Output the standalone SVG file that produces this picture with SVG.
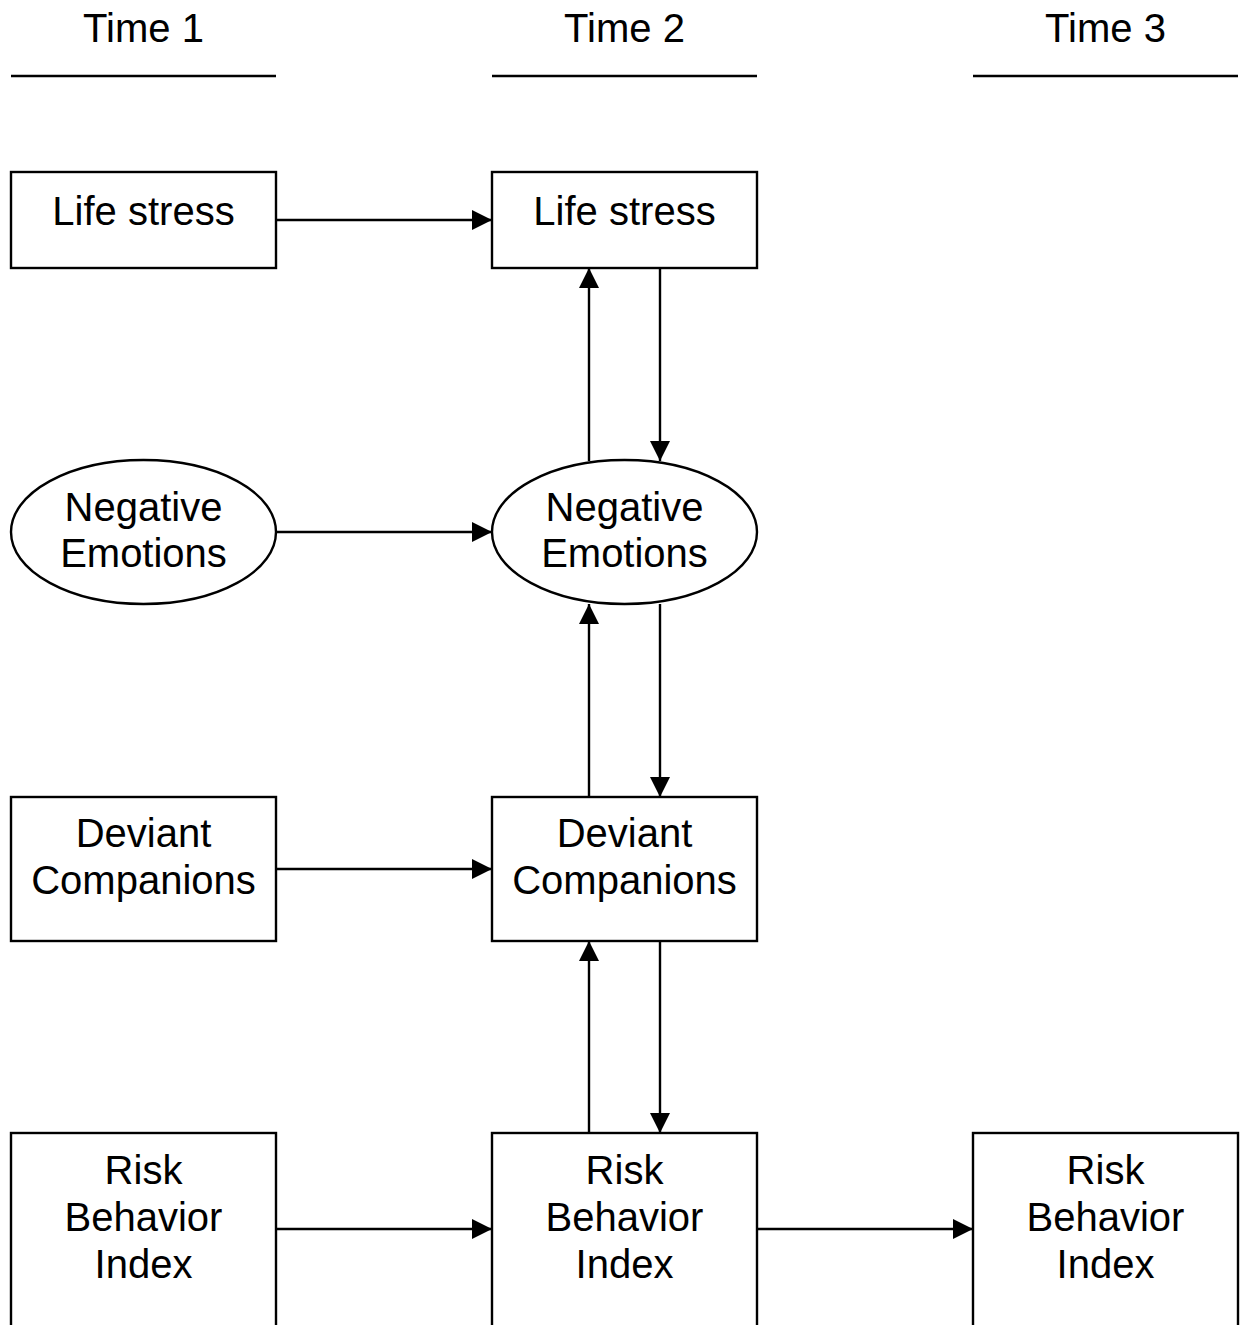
<svg xmlns="http://www.w3.org/2000/svg" width="1245" height="1325" viewBox="0 0 1245 1325">
<defs>
<style>
.n{fill:#fff;stroke:#000;stroke-width:2.4}
.t{font-family:"Liberation Sans",Arial,sans-serif;font-size:40px;fill:#000;text-anchor:middle}
.c{stroke:#000;stroke-width:2.4;fill:none;marker-end:url(#ah)}
.h{stroke:#000;stroke-width:2.4}
</style>
<marker id="ah" viewBox="0 0 10 10" refX="10" refY="5" markerUnits="userSpaceOnUse" markerWidth="20" markerHeight="20" orient="auto">
<path d="M0,0 L10,5 L0,10 Z" fill="#000"/>
</marker>
</defs>
<rect width="1245" height="1325" fill="#fff"/>
<g id="headers">
<text class="t" x="143.5" y="42">Time 1</text>
<text class="t" x="624.5" y="42">Time 2</text>
<text class="t" x="1105.5" y="42">Time 3</text>
<line class="h" x1="11" y1="76" x2="276" y2="76"/>
<line class="h" x1="492" y1="76" x2="757" y2="76"/>
<line class="h" x1="973" y1="76" x2="1238" y2="76"/>
</g>
<g id="connectors">
<line class="c" x1="276" y1="220" x2="492" y2="220"/>
<line class="c" x1="276" y1="532" x2="492" y2="532"/>
<line class="c" x1="276" y1="869" x2="492" y2="869"/>
<line class="c" x1="276" y1="1229" x2="492" y2="1229"/>
<line class="c" x1="757" y1="1229" x2="973" y2="1229"/>
<line class="c" x1="589" y1="461" x2="589" y2="268"/>
<line class="c" x1="660" y1="268" x2="660" y2="461"/>
<line class="c" x1="589" y1="797" x2="589" y2="604"/>
<line class="c" x1="660" y1="604" x2="660" y2="797"/>
<line class="c" x1="589" y1="1133" x2="589" y2="941"/>
<line class="c" x1="660" y1="941" x2="660" y2="1133"/>
</g>
<g id="life1"><rect class="n" x="11" y="172" width="265" height="96"/><text class="t" x="143.5" y="225">Life stress</text></g>
<g id="life2"><rect class="n" x="492" y="172" width="265" height="96"/><text class="t" x="624.5" y="225">Life stress</text></g>
<g id="neg1"><ellipse class="n" cx="143.5" cy="532" rx="132.5" ry="72"/><text class="t" x="143.5" y="521">Negative</text><text class="t" x="143.5" y="567">Emotions</text></g>
<g id="neg2"><ellipse class="n" cx="624.5" cy="532" rx="132.5" ry="72"/><text class="t" x="624.5" y="521">Negative</text><text class="t" x="624.5" y="567">Emotions</text></g>
<g id="dev1"><rect class="n" x="11" y="797" width="265" height="144"/><text class="t" x="143.5" y="847">Deviant</text><text class="t" x="143.5" y="894">Companions</text></g>
<g id="dev2"><rect class="n" x="492" y="797" width="265" height="144"/><text class="t" x="624.5" y="847">Deviant</text><text class="t" x="624.5" y="894">Companions</text></g>
<g id="risk1"><rect class="n" x="11" y="1133" width="265" height="210"/><text class="t" x="143.5" y="1184">Risk</text><text class="t" x="143.5" y="1231">Behavior</text><text class="t" x="143.5" y="1278">Index</text></g>
<g id="risk2"><rect class="n" x="492" y="1133" width="265" height="210"/><text class="t" x="624.5" y="1184">Risk</text><text class="t" x="624.5" y="1231">Behavior</text><text class="t" x="624.5" y="1278">Index</text></g>
<g id="risk3"><rect class="n" x="973" y="1133" width="265" height="210"/><text class="t" x="1105.5" y="1184">Risk</text><text class="t" x="1105.5" y="1231">Behavior</text><text class="t" x="1105.5" y="1278">Index</text></g>
</svg>
